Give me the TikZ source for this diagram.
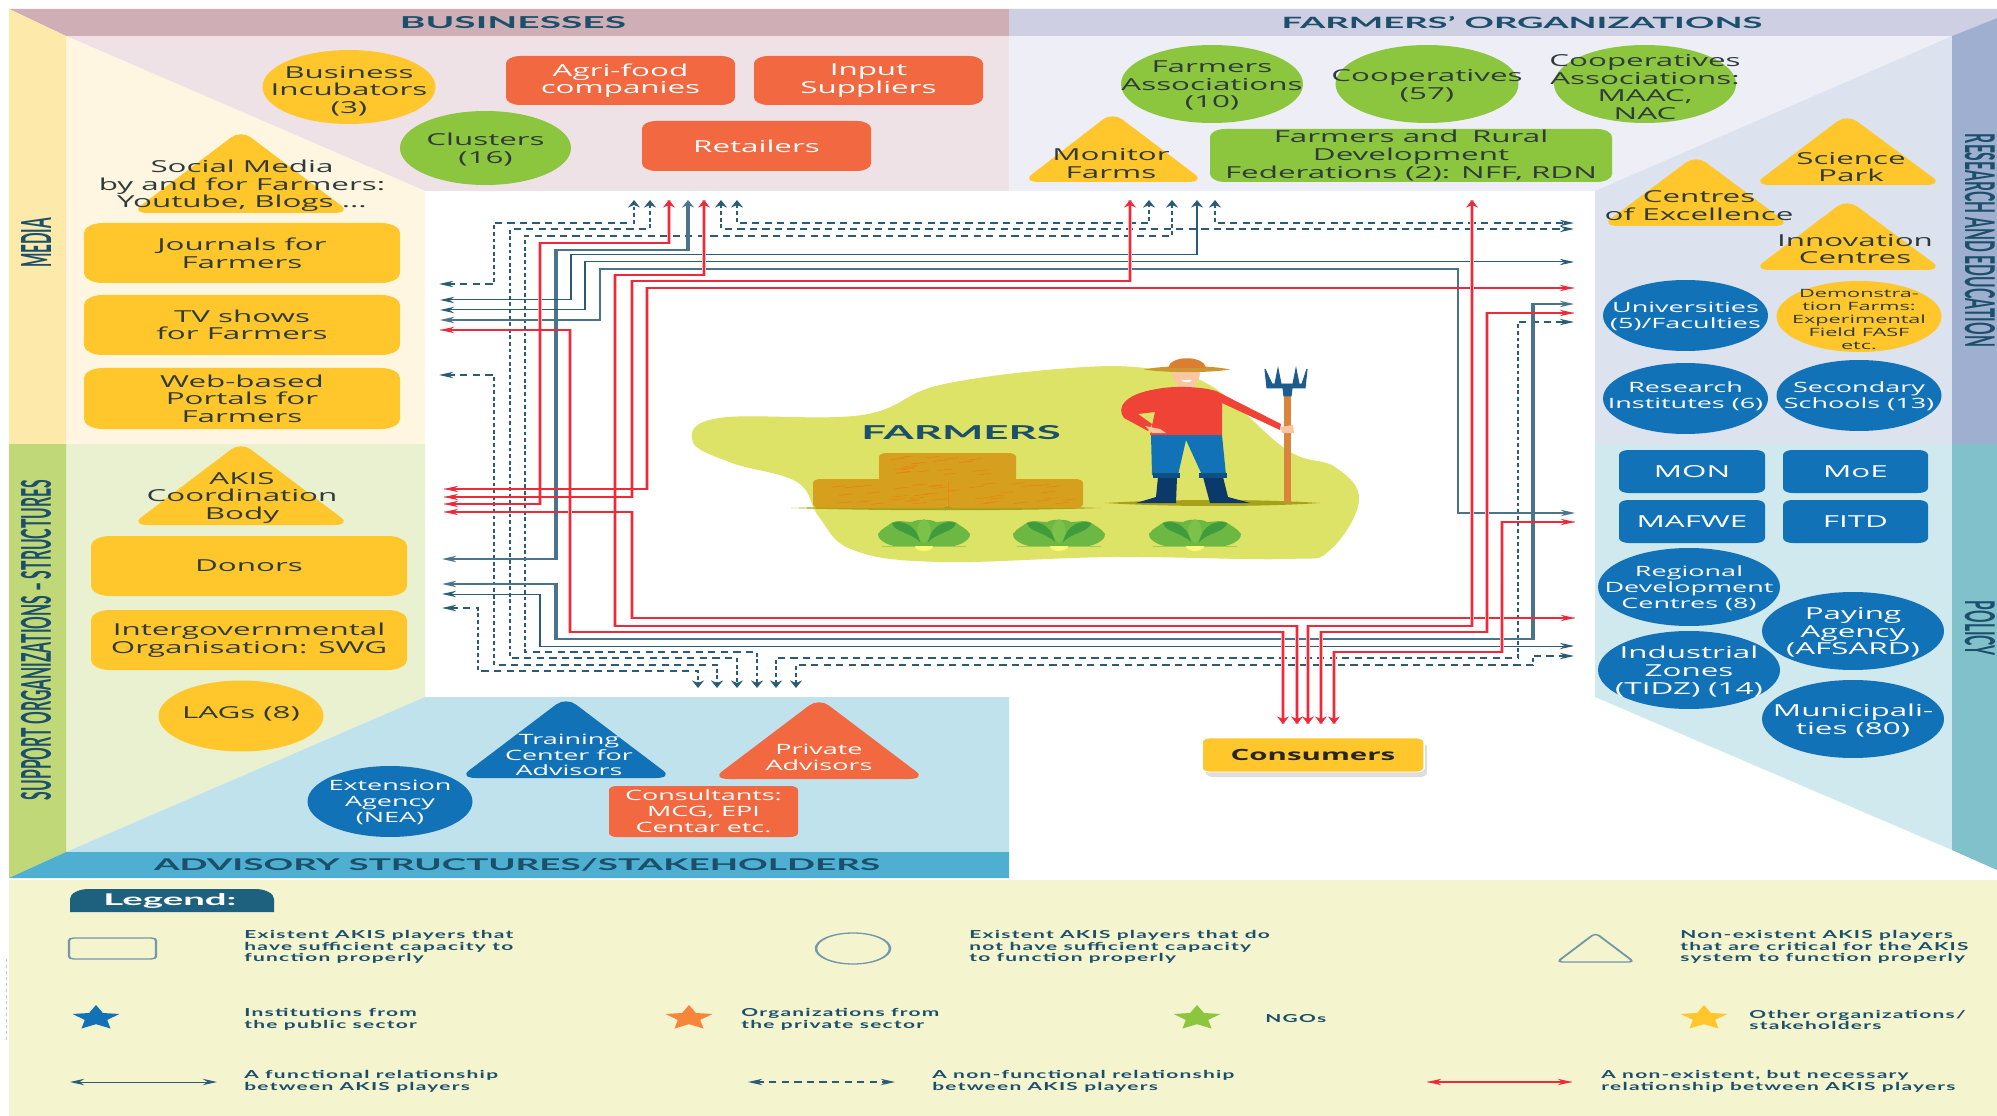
\documentclass[tikz,border=0pt]{standalone}
\usepackage{fontspec}
\usepackage{graphicx}
\usetikzlibrary{shapes.geometric,arrows.meta}
\newfontfamily\bodyfam{Open Sans}
\newfontfamily\headfam{Lato}
\newfontfamily\legfam{Lato}[LetterSpace=6]
\newcommand\fsA{\bodyfam\fontsize{16.5}{17.6}\selectfont}
\newcommand\fsB{\bodyfam\fontsize{14.2}{15.8}\selectfont}
\newcommand\fsC{\bodyfam\fontsize{11.4}{12.8}\selectfont}
\newcommand\fsL{\legfam\bfseries\fontsize{11}{11.8}\selectfont}
\definecolor{cgold}{HTML}{FFC72C}
\definecolor{corange}{HTML}{F26841}
\definecolor{cgreen}{HTML}{8CC63F}
\definecolor{cblue}{HTML}{1272B8}
\definecolor{cdark}{HTML}{2F3A3A}
\definecolor{chead}{HTML}{1B4F6B}
\definecolor{cline}{HTML}{2A5C78}
\definecolor{cred}{HTML}{EE2A3A}
\definecolor{cblob}{HTML}{DDE366}
\definecolor{chay}{HTML}{D6A01E}
\definecolor{cleafa}{HTML}{6DB843}
\definecolor{cleafb}{HTML}{3F9B3C}
\definecolor{cleafc}{HTML}{7CC24A}
\definecolor{cleg}{HTML}{7398A8}
\newcommand\mytri[6]{\fill[#6,rounded corners=9pt] (#1,{#2-5}) -- ({#5+8},#3) -- ({#4-8},#3) -- cycle;}
\newcommand\mylettuce[1]{%
 \begin{scope}[shift={(#1,546)}]
  \fill[cleafb,opacity=.35] (-42,0) rectangle (42,1);
  \fill[cleafa] (0,0) -- (-30,0) .. controls (-40,-2) and (-47,-8) .. (-46,-12) .. controls (-42,-18) and (-36,-20) .. (-34,-22) .. controls (-28,-27) and (-20,-24) .. (-12,-24) .. controls (-8,-27) and (8,-27) .. (12,-24) .. controls (20,-24) and (28,-27) .. (34,-22) .. controls (36,-20) and (42,-18) .. (46,-12) .. controls (47,-8) and (40,-2) .. (30,0) -- cycle;
  \fill[cleafb] (-4,-4) .. controls (-14,-14) and (-30,-14) .. (-32,-23) .. controls (-22,-26) and (-8,-22) .. (-4,-4);
  \fill[cleafb] (4,-4) .. controls (14,-14) and (30,-14) .. (32,-23) .. controls (22,-26) and (8,-22) .. (4,-4);
  \fill[cleafc] (0,-3) .. controls (-10,-10) and (-8,-23) .. (0,-27) .. controls (8,-23) and (10,-10) .. (0,-3);
  \fill[yellow!55!white] (-9,0) arc[start angle=180,end angle=0,x radius=9,y radius=5] -- cycle;
 \end{scope}}
\tikzset{
 bw/.style={minimum width=#1*0.526316pt},
 body/.style={font=\fsA,text=cdark,align=center,inner sep=0pt},
 bodyw/.style={font=\fsB,text=white,align=center,inner sep=0pt},
 lab/.style={label={[body,yshift=-1.5pt]center:{#1}}},
 labw/.style={label={[bodyw,yshift=-1pt]center:{#1}}},
 labwa/.style={label={[bodyw,font=\fsA,yshift=-1.5pt]center:{#1}}},
 ell/.style={ellipse,inner sep=0pt},
 ellw/.style={ellipse,inner sep=0pt,fill=cblue},
 pill/.style={rectangle,rounded corners=10pt,body,fill=cgold},
 obox/.style={rectangle,rounded corners=7.5pt,bodyw,font=\fsA,fill=corange},
 bbox/.style={rectangle,rounded corners=5pt,bodyw,font=\fsA,fill=cblue},
 legt/.style={font=\fsL,text=chead,align=left,anchor=west,inner sep=0pt},
 lstar/.style={star,star points=5,star point ratio=2.1,minimum size=26pt,inner sep=0pt},
 tips/.style={arrows={Stealth[length=7.5pt,width=6.3pt]-Stealth[length=7.5pt,width=6.3pt]}},
 nonfun/.style={tips,draw=cline,line width=1.25pt,dash pattern=on 3.8pt off 2.8pt},
 fun/.style={tips,draw=cline,line width=1pt},
 funk/.style={tips,draw=cline!85,line width=1.9pt},
 nec/.style={tips,draw=cred,line width=1.1pt,preaction={draw=cred!35,line width=2pt,arrows=-}},
}
\begin{document}
\begin{tikzpicture}[x=0.526316pt,y=-1pt]
\useasboundingbox (0,0) rectangle (3794.3,1116);
\begin{scope}[transform canvas={xscale=1.9}]
\fill[white] (0,0) rectangle (1997,1116);
% panels
\fill[fill={rgb,255:red,239;green,226;blue,230}] (66,36) -- (1009,36) -- (1009,191) -- (425,191) -- cycle;
\fill[fill={rgb,255:red,238;green,239;blue,246}] (1009,36) -- (1952,36) -- (1595,191) -- (1009,191) -- cycle;
\fill[fill={rgb,255:red,220;green,226;blue,238}] (1952,36) -- (1952,444) -- (1595,444) -- (1595,191) -- cycle;
\fill[fill={rgb,255:red,208;green,233;blue,238}] (1595,444) -- (1952,444) -- (1952,850) -- (1595,697) -- cycle;
\fill[fill={rgb,255:red,254;green,246;blue,224}] (66,36) -- (425,191) -- (425,444) -- (66,444) -- cycle;
\fill[fill={rgb,255:red,233;green,241;blue,208}] (66,444) -- (425,444) -- (425,697) -- (66,852) -- cycle;
\fill[fill={rgb,255:red,192;green,226;blue,236}] (425,697) -- (1009,697) -- (1009,852) -- (66,852) -- cycle;
% bands
\fill[fill={rgb,255:red,208;green,174;blue,181}] (9,9) -- (1009,9) -- (1009,36) -- (66,36) -- cycle;
\fill[fill={rgb,255:red,207;green,207;blue,227}] (1009,9) -- (1997,9) -- (1997,18) -- (1952,36) -- (1009,36) -- cycle;
\fill[fill={rgb,255:red,159;green,175;blue,207}] (1997,18) -- (1997,444) -- (1952,444) -- (1952,36) -- cycle;
\fill[fill={rgb,255:red,128;green,193;blue,203}] (1997,444) -- (1997,870) -- (1952,850) -- (1952,444) -- cycle;
\fill[fill={rgb,255:red,253;green,233;blue,169}] (9,9) -- (66,36) -- (66,444) -- (9,444) -- cycle;
\fill[fill={rgb,255:red,193;green,216;blue,120}] (9,444) -- (66,444) -- (66,852) -- (9,878) -- cycle;
\fill[fill={rgb,255:red,79;green,175;blue,208}] (66,852) -- (1009,852) -- (1009,878) -- (9,878) -- cycle;
\fill[fill={rgb,255:red,244;green,244;blue,207}] (9,880) rectangle (1997,1116);
\draw[gray!45,line width=.7pt,dashed] (6.5,959) -- (6.5,1040);
% band titles
\node[inner sep=0pt,text=chead] (tbus) at (513,22.5) {\resizebox{119pt}{12pt}{\headfam\bfseries BUSINESSES}};
\node[inner sep=0pt,text=chead] (tfar) at (1522,22.5) {\resizebox{253pt}{12pt}{\headfam\bfseries FARMERS’ ORGANIZATIONS}};
\node[inner sep=0pt,text=chead] (tadv) at (517,865) {\resizebox{382pt}{12pt}{\headfam\bfseries ADVISORY STRUCTURES/STAKEHOLDERS}};
\node[inner sep=0pt,text=chead,rotate=90] (tmed) at (36,243) {\resizebox{50pt}{15.8pt}{\headfam\bfseries MEDIA}};
\node[inner sep=0pt,text=chead,rotate=90] (tsup) at (36,640) {\resizebox{320pt}{15.8pt}{\headfam\bfseries SUPPORT ORGANIZATIONS – STRUCTURES}};
\node[inner sep=0pt,text=chead,rotate=-90] (tres) at (1980,240.5) {\resizebox{213pt}{15.8pt}{\headfam\bfseries RESEARCH AND EDUCATION}};
\node[inner sep=0pt,text=chead,rotate=-90] (tpol) at (1980,628.5) {\resizebox{55pt}{15.8pt}{\headfam\bfseries POLICY}};
% businesses
\node[ell,fill=cgold,bw=173,minimum height=74pt,label={[body,yshift=-4pt]center:{Business\\Incubators\\(3)}}] (incub) at (349,87) {};
\node[obox,bw=229,minimum height=49pt] (agri) at (620.5,80.5) {Agri-food\\companies};
\node[obox,bw=229,minimum height=49pt] (input) at (868.5,80.5) {Input\\Suppliers};
\node[ell,fill=cgreen,bw=171,minimum height=74pt,lab={Clusters\\(16)}] (clust) at (485.5,148) {};
\node[obox,bw=229,minimum height=50pt] (retail) at (756.5,146) {Retailers};
% farmers org
\node[ell,fill=cgreen,bw=182,minimum height=78pt,lab={Farmers\\Associations\\(10)}] (fassoc) at (1212,84) {};
\node[ell,fill=cgreen,bw=183,minimum height=78pt,lab={Cooperatives\\(57)}] (coop) at (1427,84) {};
\node[ell,fill=cgreen,bw=182,minimum height=78pt,label={[body,yshift=-3pt]center:{Cooperatives\\Associations:\\MAAC,\\NAC}}] (cassoc) at (1645,84) {};
\mytri{1112.5}{117}{182}{1030}{1197}{cgold}
\node[body] (monitor) at (1111,163.5) {Monitor\\Farms};
\node[pill,fill=cgreen,rounded corners=8pt,bw=402,minimum height=53pt] (feder) at (1411,155.5) {Farmers and\, Rural\\Development\\Federations (2): NFF, RDN};
% media
\mytri{241}{135}{213}{139}{343}{cgold}
\node[body] (social) at (242,186) {Social Media\\by and for Farmers:\\Youtube, Blogs ...};
\node[pill,bw=316,minimum height=60pt] (journ) at (242,253) {Journals for\\Farmers};
\node[pill,bw=316,minimum height=60pt] (tv) at (242,325) {TV shows\\for Farmers};
\node[pill,bw=316,minimum height=61pt] (web) at (242,398.5) {Web-based\\Portals for\\Farmers};
% support
\mytri{241}{447}{525}{139}{343}{cgold}
\node[body] (akis) at (242,498) {AKIS\\Coordination\\Body};
\node[pill,bw=316,minimum height=60pt] (donors) at (249,566) {Donors};
\node[pill,bw=316,minimum height=60pt] (swg) at (249,640) {Intergovernmental\\Organisation: SWG};
\node[ell,fill=cgold,bw=165,minimum height=71pt,label={[body,yshift=2pt]center:LAGs (8)}] (lags) at (241,716) {};
% research
\mytri{1696}{160}{226}{1609}{1783}{cgold}
\node[body] (excel) at (1699,205.5) {Centres\\of Excellence};
\mytri{1847}{119}{185}{1761}{1935}{cgold}
\node[body] (park) at (1851,167) {Science\\Park};
\mytri{1847}{204}{270}{1761}{1935}{cgold}
\node[body] (innov) at (1855,249) {Innovation\\Centres};
\node[ellw,bw=165,minimum height=71pt,labw={Universities\\(5)/Faculties}] (univ) at (1685.5,315.5) {};
\node[ell,fill=cgold,bw=165,minimum height=71pt,label={[body,font=\fsC,yshift=-3pt]center:{Demonstra-\\tion Farms:\\Experimental\\Field FASF\\etc.}}] (demo) at (1859,316.5) {};
\node[ellw,bw=165,minimum height=71pt,label={[bodyw,yshift=2.5pt]center:{Research\\Institutes (6)}}] (resin) at (1685.5,398.5) {};
\node[ellw,bw=165,minimum height=71pt,labw={Secondary\\Schools (13)}] (second) at (1859,395.5) {};
% policy
\node[bbox,bw=146,minimum height=43pt] (mon) at (1692,471.5) {MON};
\node[bbox,bw=145,minimum height=43pt] (moe) at (1855.5,471.5) {MoE};
\node[bbox,bw=146,minimum height=43pt] (mafwe) at (1692,521.5) {MAFWE};
\node[bbox,bw=145,minimum height=43pt] (fitd) at (1855.5,521.5) {FITD};
\node[ellw,bw=182,minimum height=78pt,labw={Regional\\Development\\Centres (8)}] (regio) at (1689,587) {};
\node[ellw,bw=182,minimum height=78pt,labwa={Paying\\Agency\\(AFSARD)}] (pay) at (1853,631) {};
\node[ellw,bw=182,minimum height=78pt,labwa={Industrial\\Zones\\(TIDZ) (14)}] (indus) at (1689,670) {};
\node[ellw,bw=182,minimum height=78pt,labwa={Municipali-\\ties (80)}] (munic) at (1853,719) {};
% advisory
\mytri{566}{702}{778}{467}{665}{cblue}
\node[bodyw] (train) at (569,755) {Training\\Center for\\Advisors};
\mytri{819}{703}{779}{720}{918}{corange}
\node[bodyw] (priv) at (819,757) {Private\\Advisors};
\node[ellw,bw=165,minimum height=71pt,labw={Extension\\Agency\\(NEA)}] (exten) at (390,801.5) {};
\node[obox,font=\fsB,rounded corners=4pt,bw=189,minimum height=51pt] (consul) at (703.5,811.5) {Consultants:\\MCG, EPI\\Centar etc.};
% consumers
\fill[black,opacity=.13,rounded corners=4pt] (1206,743) rectangle (1427,777);
\node[rectangle,rounded corners=4pt,fill=cgold,draw=white,line width=.8pt,bw=222,minimum height=34pt,font=\bodyfam\bfseries\fontsize{15.5}{17}\selectfont,text=black!85] (consum) at (1313,755) {Consumers};
% farmer illustration
\fill[cblob] plot[smooth cycle,tension=.65] coordinates {(693,442) (719,418) (862,415) (940,385) (1070,368) (1153,369) (1213,387) (1287,450) (1335,467) (1359,500) (1330,550) (1287,559) (1114,557) (940,562) (853,550) (819,517) (797,482) (732,463)};
\fill[olive!70!cblob] (791,508) .. controls (880,505) and (1010,505) .. (1101,508) .. controls (1010,511) and (880,511) .. (791,508) -- cycle;
\fill[olive!70!cblob] (1105,503) .. controls (1170,499) and (1260,499) .. (1320,503) .. controls (1260,507) and (1170,507) .. (1105,503) -- cycle;
\fill[chay,rounded corners=4pt] (879,453) rectangle (1016,482);
\fill[chay,rounded corners=4pt] (813,479) rectangle (948,508);
\fill[chay,rounded corners=4pt] (948,479) rectangle (1083,508);
\draw[orange!80!chay,line width=.3pt] (948,482) -- (948,506);
\pgfmathsetseed{7}
\foreach \i in {1,...,40}{\pgfmathsetmacro\hx{830+rnd*235}\pgfmathsetmacro\hy{483+rnd*22}\draw[orange!65!brown,line width=.5pt] (\hx,\hy) -- ++(14,-1.5);}
\foreach \i in {1,...,20}{\pgfmathsetmacro\hx{888+rnd*110}\pgfmathsetmacro\hy{457+rnd*18}\draw[orange!65!brown,line width=.5pt] (\hx,\hy) -- ++(14,-1.5);}
\mylettuce{924}
\mylettuce{1059}
\mylettuce{1195}
\node[inner sep=0pt,text=chead] (farmt) at (961,433) {\resizebox{105pt}{14pt}{\headfam\bfseries FARMERS}};
% man
\fill[fill={rgb,255:red,11;green,58;blue,106}] (1158,477) -- (1177,477) -- (1176,503) -- (1136,503) -- (1156,497) -- cycle;
\fill[fill={rgb,255:red,11;green,58;blue,106}] (1203,477) -- (1223,477) -- (1228,497) -- (1250,503) -- (1210,503) -- cycle;
\fill[cblue] (1151,435) -- (1222,435) -- (1226,475) -- (1202,475) -- (1186,440) -- (1178,475) -- (1152,475) -- cycle;
\fill[fill={rgb,255:red,15;green,80;blue,130}] (1153,473) rectangle (1180,478);
\fill[fill={rgb,255:red,15;green,80;blue,130}] (1199,473) rectangle (1227,478);
\fill[fill={rgb,255:red,250;green,198;blue,160}] (1172,372) .. controls (1172,392) and (1200,392) .. (1200,372) -- cycle;
\fill[fill={rgb,255:red,250;green,198;blue,160}] (1177,383) rectangle (1195,390);
\fill[white] (1181,380) .. controls (1183,383) and (1190,383) .. (1192,380) -- cycle;
\fill[fill={rgb,255:red,240;green,67;blue,55}] (1157,389) .. controls (1170,386) and (1200,386) .. (1216,391) -- (1281,424) -- (1280,430) -- (1222,403) -- (1222,435) -- (1150,435) -- (1155,412) -- (1138,414) -- (1152,424) -- (1148,431) -- (1124,418) .. controls (1116,408) and (1124,394) .. (1157,389) -- cycle;
\fill[fill={rgb,255:red,250;green,198;blue,160}] (1145,426) -- (1160,429) -- (1166,433) -- (1152,433) -- cycle;
\fill[fill={rgb,255:red,205;green,150;blue,50}] (1144,369.5) .. controls (1165,365) and (1210,365) .. (1230,369.5) .. controls (1210,373) and (1165,373) .. (1144,369.5) -- cycle;
\fill[fill={rgb,255:red,217;green,127;blue,47}] (1168,368) .. controls (1170,355) and (1204,355) .. (1206,368) -- cycle;
\fill[fill={rgb,255:red,217;green,133;blue,59}] (1284,395) rectangle (1291,503);
\draw[fill={rgb,255:red,29;green,92;blue,142},draw={rgb,255:red,29;green,92;blue,142},line width=.6pt] (1265,369) -- (1267,388) -- (1283,388) -- (1284,396) -- (1291,396) -- (1292,388) -- (1305,388) -- (1307,369) -- (1302,384) -- (1299,384) -- (1296,369) -- (1293,384) -- (1281,384) -- (1278,369) -- (1275,384) -- (1272,384) -- cycle;
\fill[fill={rgb,255:red,250;green,198;blue,160}] (1280,427) -- (1293,425) -- (1294,433) -- (1282,433) -- cycle;
% connector end points
\coordinate (tA) at (634,200); \coordinate (lA) at (439,284);
\coordinate (tB) at (650,200); \coordinate (bB) at (737,688);
\coordinate (tC) at (1172,200); \coordinate (bC) at (757,688);
\coordinate (lD) at (439,375); \coordinate (bD) at (717,688);
\coordinate (lE) at (442,608); \coordinate (bE) at (698,688);
\coordinate (tF) at (737,200); \coordinate (tFb) at (1149,200);
\coordinate (tG) at (721,200); \coordinate (rG) at (1574,229);
\coordinate (tH) at (1215,200); \coordinate (rH) at (1574,223);
\coordinate (bI) at (776,688); \coordinate (rI) at (1574,322);
\coordinate (bJ) at (796,688); \coordinate (rJ) at (1574,656);
\coordinate (tK) at (688,200); \coordinate (lK) at (442,559);
\coordinate (lL) at (442,584); \coordinate (rL) at (1574,304);
\coordinate (lM) at (442,594); \coordinate (rM) at (1574,646);
\coordinate (lN) at (440,300); \coordinate (tN) at (1197,200);
\coordinate (lO) at (440,310); \coordinate (rO) at (1574,262);
\coordinate (lP) at (440,320); \coordinate (rP) at (1575,513);
\coordinate (tQ) at (669,200); \coordinate (lQ) at (444,504);
\coordinate (tR) at (704,200); \coordinate (bR) at (1297,724);
\coordinate (lS) at (444,512); \coordinate (rS) at (1575,618);
\coordinate (lT) at (440,330); \coordinate (bT) at (1283,724);
\coordinate (lU) at (444,497); \coordinate (tU) at (1130,200);
\coordinate (lV) at (444,489); \coordinate (rV) at (1574,288);
\coordinate (bW) at (1308,724); \coordinate (tW) at (1472,200);
\coordinate (bX) at (1321,724); \coordinate (rX) at (1574,313);
\coordinate (bY) at (1334,724); \coordinate (rY) at (1575,522);
% non-functional
\draw[nonfun] (lA) -| (494,223) -| (tA);
\draw[nonfun] (tB) |- (510,229) |- (737,658) -- (bB);
\draw[nonfun] (tC) |- (525,236) |- (757,652) -- (bC);
\draw[nonfun] (lD) -| (494,665) -| (bD);
\draw[nonfun] (lE) -| (478,671) -| (bE);
\draw[nonfun] (tF) |- (1149,223) -- (tFb);
\draw[nonfun] (tG) |- (rG);
\draw[nonfun] (tH) |- (rH);
\draw[nonfun] (bI) |- (1518,658) |- (rI);
\draw[nonfun] (bJ) |- (1533,665) |- (rJ);
% functional
\draw[funk] (tK) |- (556,250) |- (lK);
\draw[funk] (lL) -| (556,639) -| (1533,304) -- (rL);
\draw[fun] (lM) -| (540,646) -- (rM);
\draw[fun] (lN) -| (571,255) -| (tN);
\draw[fun] (lO) -| (585,262) -- (rO);
\draw[funk,line width=1.4pt] (lP) -| (600,269) -| (1458,513) -- (rP);
% necessary
\draw[nec] (tQ) |- (540,243) |- (lQ);
\draw[nec] (tR) |- (615,275) |- (1297,626) -- (bR);
\draw[nec] (lS) -| (632,618) -- (rS);
\draw[nec] (lT) -| (570,632) -| (bT);
\draw[nec] (lU) -| (632,281) -| (tU);
\draw[nec] (lV) -| (647,288) -- (rV);
\draw[nec] (bW) |- (1472,626) -- (tW);
\draw[nec] (bX) |- (1487,632) |- (rX);
\draw[nec] (bY) |- (1502,652) |- (rY);
% legend
\fill[fill={rgb,255:red,29;green,97;blue,127}] (70,912) [rounded corners=10pt] -- (70,889) -- (274,889) [sharp corners] -- (274,912) -- cycle;
\node[inner sep=0pt,text=white] (legtitle) at (170,901) {\resizebox{70pt}{12pt}{\headfam\bfseries Legend:}};
\node[rectangle,draw=cleg,line width=1.3pt,rounded corners=2.5pt,bw=87,minimum height=21pt] (legrect) at (112.5,948.5) {};
\node[ellipse,draw=cleg,line width=1.3pt,bw=74,minimum height=31pt] (legell) at (853,948.5) {};
\draw[draw=cleg,line width=1.3pt,rounded corners=3pt] (1595.5,933) -- (1634,962) -- (1557,962) -- cycle;
\node[legt] (lg1) at (244,947) {Existent AKIS players that\\have sufficient capacity to\\function properly};
\node[legt] (lg2) at (969,947) {Existent AKIS players that do\\not have sufficient capacity\\to function properly};
\node[legt] (lg3) at (1680,947) {Non-existent AKIS players\\that are critical for the AKIS\\system to function properly};
\node[lstar,fill=cblue] (st1) at (96,1018) {};
\node[lstar,fill={rgb,255:red,247;green,134;blue,60}] (st2) at (689,1018) {};
\node[lstar,fill=cgreen] (st3) at (1197,1018) {};
\node[lstar,fill=cgold] (st4) at (1704,1018) {};
\node[legt] (lg4) at (244,1019) {Institutions from\\the public sector};
\node[legt] (lg5) at (741,1019) {Organizations from\\the private sector};
\node[legt] (lg6) at (1265,1019) {NGOs};
\node[legt] (lg7) at (1749,1020) {Other organizations/\\stakeholders};
\coordinate (la1) at (70,1082); \coordinate (la2) at (217,1082);
\coordinate (la3) at (748,1082); \coordinate (la4) at (895,1082);
\coordinate (la5) at (1427,1082); \coordinate (la6) at (1572,1082);
\draw[fun] (la1) -- (la2);
\draw[nonfun] (la3) -- (la4);
\draw[nec] (la5) -- (la6);
\node[legt] (lg8) at (244,1081) {A functional relationship\\between AKIS players};
\node[legt] (lg9) at (932,1081) {A non-functional relationship\\between AKIS players};
\node[legt] (lg10) at (1601,1081) {A non-existent, but necessary\\relationship between AKIS players};
\end{scope}
\end{tikzpicture}
\end{document}
